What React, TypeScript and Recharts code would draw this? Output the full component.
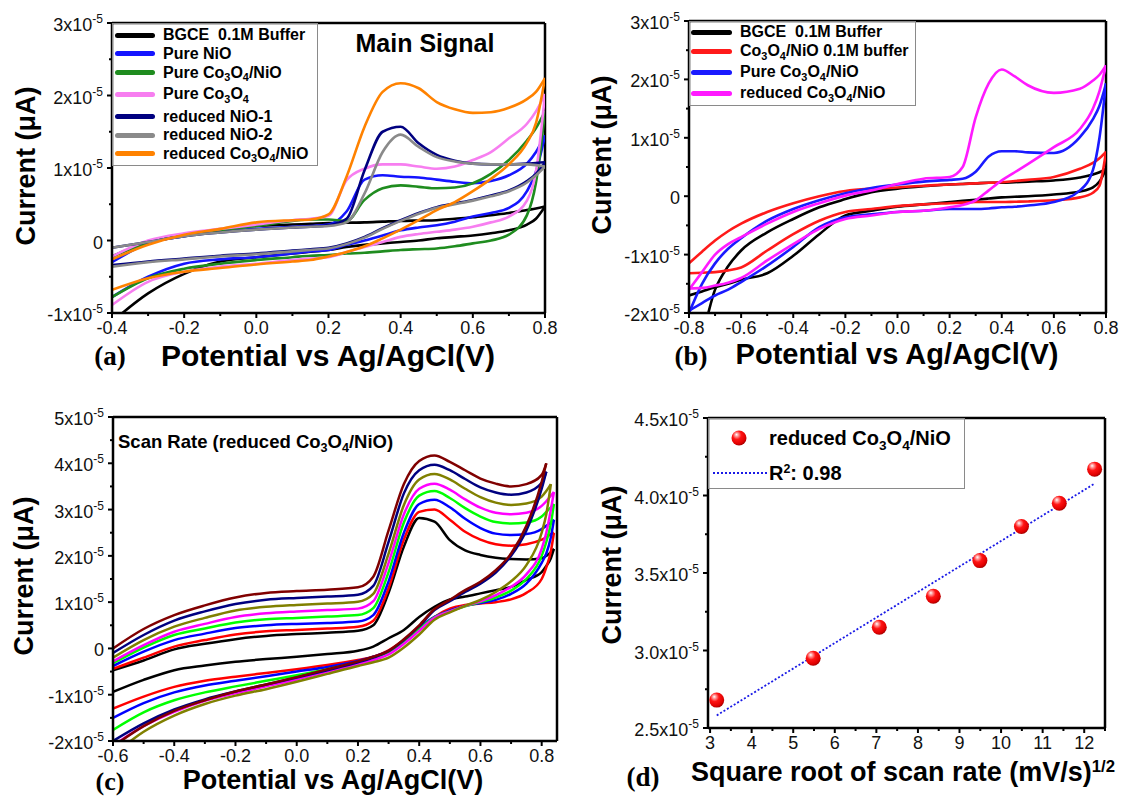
import type { ReactNode } from 'react';
import { LineChart, Line, XAxis, YAxis, ReferenceLine, ScatterChart, Scatter } from 'recharts';

const SANS = '"Liberation Sans", Arial, Helvetica, sans-serif';
const SERIF = '"Liberation Serif", "Times New Roman", serif';

// currents are in units of 1x10^-5, potentials in V vs Ag/AgCl

// (a) main signal
const POT_A = [-0.4, -0.3, -0.2, -0.1, 0, 0.1, 0.15, 0.2, 0.25, 0.3, 0.35, 0.4, 0.45, 0.5, 0.55, 0.6, 0.65, 0.7, 0.75, 0.775, 0.8];
const A_BGCE_UP = [-0.22, -0.02, 0.08, 0.15, 0.2, 0.22, 0.23, 0.24, 0.245, 0.25, 0.26, 0.27, 0.275, 0.28, 0.3, 0.32, 0.35, 0.38, 0.42, 0.44, 0.47];
const A_BGCE_DN = [-1.12, -0.73, -0.46, -0.29, -0.23, -0.18, -0.155, -0.13, -0.09, -0.06, -0.04, -0.02, 0.0, 0.03, 0.05, 0.07, 0.1, 0.14, 0.22, 0.3, 0.47];
const A_NIO_UP = [-0.3, -0.04, 0.06, 0.12, 0.16, 0.19, 0.2, 0.22, 0.4, 0.84, 0.9, 0.88, 0.87, 0.84, 0.81, 0.79, 0.82, 0.9, 1.06, 1.22, 1.45];
const A_NIO_DN = [-0.78, -0.5, -0.32, -0.26, -0.23, -0.18, -0.15, -0.13, -0.06, 0.0, 0.07, 0.14, 0.18, 0.21, 0.26, 0.33, 0.38, 0.45, 0.68, 0.95, 1.45];
const A_CONIO_UP = [-0.22, -0.03, 0.08, 0.14, 0.2, 0.27, 0.29, 0.29, 0.27, 0.56, 0.72, 0.76, 0.74, 0.72, 0.73, 0.79, 0.92, 1.11, 1.38, 1.55, 1.78];
const A_CONIO_DN = [-0.78, -0.52, -0.39, -0.32, -0.27, -0.23, -0.21, -0.2, -0.18, -0.17, -0.15, -0.13, -0.12, -0.11, -0.08, -0.04, 0.0, 0.08, 0.35, 0.8, 1.78];
const A_CO_UP = [-0.22, 0.0, 0.1, 0.16, 0.22, 0.28, 0.3, 0.34, 0.83, 0.99, 1.05, 1.05, 1.02, 0.99, 1.02, 1.11, 1.22, 1.41, 1.61, 1.78, 2.02];
const A_CO_DN = [-0.89, -0.57, -0.43, -0.36, -0.32, -0.27, -0.25, -0.23, -0.16, -0.09, -0.02, 0.05, 0.09, 0.12, 0.15, 0.19, 0.25, 0.33, 0.55, 0.95, 2.02];
const A_RNIO1_UP = [-0.1, -0.02, 0.06, 0.11, 0.15, 0.18, 0.19, 0.21, 0.3, 0.97, 1.5, 1.57, 1.34, 1.18, 1.1, 1.06, 1.05, 1.05, 1.06, 1.07, 1.08];
const A_RNIO1_DN = [-0.34, -0.29, -0.25, -0.21, -0.18, -0.14, -0.12, -0.1, -0.04, 0.05, 0.17, 0.28, 0.38, 0.46, 0.51, 0.56, 0.62, 0.69, 0.82, 0.92, 1.08];
const A_RNIO2_UP = [-0.1, -0.02, 0.06, 0.11, 0.15, 0.18, 0.19, 0.2, 0.25, 0.65, 1.22, 1.46, 1.29, 1.15, 1.09, 1.06, 1.05, 1.05, 1.05, 1.04, 1.02];
const A_RNIO2_DN = [-0.36, -0.3, -0.26, -0.22, -0.19, -0.15, -0.13, -0.11, -0.05, 0.04, 0.16, 0.27, 0.37, 0.45, 0.5, 0.55, 0.61, 0.68, 0.8, 0.9, 1.02];
const A_RCONIO_UP = [-0.26, -0.06, 0.08, 0.16, 0.25, 0.28, 0.29, 0.36, 0.88, 1.57, 2.05, 2.17, 2.1, 1.91, 1.81, 1.76, 1.77, 1.83, 1.95, 2.05, 2.24];
const A_RCONIO_DN = [-0.68, -0.52, -0.43, -0.38, -0.33, -0.29, -0.27, -0.22, -0.16, -0.08, 0.03, 0.15, 0.28, 0.42, 0.53, 0.68, 0.85, 1.05, 1.35, 1.62, 2.24];

// (b) buffer comparison
const POT_B = [-0.8, -0.75, -0.7, -0.65, -0.6, -0.5, -0.4, -0.3, -0.2, -0.1, 0, 0.1, 0.2, 0.25, 0.3, 0.35, 0.4, 0.45, 0.5, 0.6, 0.7, 0.75, 0.775, 0.8];
const B_BGCE_UP = [-2.6, -2.35, -1.6, -1.2, -0.93, -0.62, -0.39, -0.19, -0.05, 0.07, 0.13, 0.17, 0.2, 0.21, 0.22, 0.23, 0.23, 0.24, 0.25, 0.27, 0.32, 0.37, 0.41, 0.47];
const B_BGCE_DN = [-1.7, -1.63, -1.56, -1.5, -1.43, -1.32, -1.02, -0.65, -0.33, -0.25, -0.18, -0.14, -0.1, -0.08, -0.06, -0.04, -0.02, -0.01, 0.0, 0.03, 0.08, 0.15, 0.25, 0.47];
const B_BUF_UP = [-1.15, -0.95, -0.76, -0.6, -0.47, -0.27, -0.12, 0.0, 0.09, 0.13, 0.15, 0.18, 0.2, 0.21, 0.22, 0.23, 0.24, 0.26, 0.28, 0.33, 0.47, 0.57, 0.65, 0.76];
const B_BUF_DN = [-1.32, -1.31, -1.3, -1.27, -1.22, -0.93, -0.65, -0.42, -0.27, -0.22, -0.17, -0.14, -0.12, -0.11, -0.1, -0.1, -0.1, -0.095, -0.09, -0.07, -0.02, 0.06, 0.18, 0.76];
const B_CONIO_UP = [-2.0, -1.5, -1.15, -0.9, -0.72, -0.42, -0.22, -0.07, 0.05, 0.14, 0.2, 0.25, 0.28, 0.3, 0.42, 0.68, 0.77, 0.77, 0.75, 0.74, 1.01, 1.32, 1.55, 1.93];
const B_CONIO_DN = [-1.96, -1.83, -1.7, -1.6, -1.47, -1.19, -0.87, -0.53, -0.36, -0.31, -0.27, -0.25, -0.22, -0.22, -0.22, -0.21, -0.19, -0.18, -0.16, -0.1, 0.1, 0.45, 1.0, 1.93];
const B_RCONIO_UP = [-1.6, -1.3, -1.0, -0.82, -0.7, -0.47, -0.27, -0.12, 0.01, 0.1, 0.21, 0.3, 0.33, 0.5, 1.35, 1.93, 2.17, 2.05, 1.9, 1.77, 1.84, 1.98, 2.08, 2.24];
const B_RCONIO_DN = [-1.58, -1.57, -1.53, -1.48, -1.4, -1.1, -0.82, -0.56, -0.39, -0.33, -0.27, -0.25, -0.19, -0.15, -0.07, 0.1, 0.27, 0.41, 0.55, 0.84, 1.15, 1.5, 1.8, 2.24];

// (c) scan rate, reduced Co3O4/NiO (slowest -> fastest)
const POT_C = [-0.6, -0.5, -0.4, -0.3, -0.2, -0.1, 0, 0.1, 0.2, 0.25, 0.3, 0.35, 0.4, 0.45, 0.5, 0.55, 0.6, 0.65, 0.7, 0.75, 0.8, 0.815, 0.83, 0.84];
const C_R1_UP = [-0.47, -0.26, -0.02, 0.1, 0.2, 0.27, 0.31, 0.34, 0.38, 0.5, 1.2, 2.2, 2.82, 2.74, 2.34, 2.12, 2.02, 1.96, 1.93, 1.92, 1.95, 2.0, 2.08, 2.15];
const C_R1_DN = [-0.94, -0.68, -0.47, -0.37, -0.29, -0.23, -0.18, -0.12, -0.05, 0.04, 0.22, 0.4, 0.68, 0.9, 1.06, 1.12, 1.19, 1.26, 1.33, 1.48, 1.65, 1.78, 1.95, 2.15];
const C_R2_UP = [-0.44, -0.2, 0.04, 0.18, 0.3, 0.37, 0.4, 0.43, 0.47, 0.6, 1.3, 2.35, 2.95, 3.0, 2.78, 2.52, 2.35, 2.25, 2.22, 2.25, 2.35, 2.4, 2.47, 2.5];
const C_R2_DN = [-1.3, -1.04, -0.83, -0.7, -0.61, -0.53, -0.45, -0.36, -0.25, -0.18, -0.04, 0.18, 0.43, 0.68, 0.86, 0.94, 0.97, 1.0, 1.06, 1.2, 1.5, 1.75, 2.1, 2.5];
const C_R3_UP = [-0.38, -0.07, 0.18, 0.32, 0.44, 0.5, 0.53, 0.55, 0.58, 0.72, 1.45, 2.5, 3.12, 3.21, 3.05, 2.8, 2.6, 2.48, 2.45, 2.47, 2.58, 2.65, 2.72, 2.78];
const C_R3_DN = [-1.5, -1.18, -0.95, -0.8, -0.7, -0.6, -0.5, -0.4, -0.27, -0.18, -0.06, 0.16, 0.45, 0.68, 0.82, 0.92, 0.98, 1.05, 1.18, 1.4, 1.85, 2.05, 2.4, 2.78];
const C_R4_UP = [-0.32, 0.02, 0.29, 0.43, 0.56, 0.63, 0.66, 0.69, 0.72, 0.87, 1.65, 2.72, 3.3, 3.4, 3.25, 3.03, 2.85, 2.73, 2.7, 2.72, 2.85, 2.95, 3.05, 3.12];
const C_R4_DN = [-1.76, -1.38, -1.12, -0.95, -0.82, -0.7, -0.58, -0.45, -0.3, -0.2, -0.08, 0.15, 0.42, 0.67, 0.8, 0.91, 1.0, 1.1, 1.25, 1.5, 2.0, 2.3, 2.7, 3.12];
const C_R5_UP = [-0.28, 0.07, 0.36, 0.53, 0.68, 0.76, 0.8, 0.83, 0.86, 1.02, 1.85, 2.9, 3.45, 3.56, 3.43, 3.22, 3.04, 2.93, 2.9, 2.93, 3.08, 3.18, 3.3, 3.38];
const C_R5_DN = [-2.1, -1.68, -1.37, -1.13, -0.97, -0.82, -0.67, -0.5, -0.34, -0.25, -0.13, 0.1, 0.38, 0.66, 0.8, 0.92, 1.02, 1.15, 1.33, 1.6, 2.15, 2.5, 3.0, 3.38];
const C_R6_UP = [-0.2, 0.18, 0.47, 0.66, 0.82, 0.9, 0.94, 0.97, 1.01, 1.18, 2.05, 3.1, 3.65, 3.77, 3.65, 3.45, 3.27, 3.15, 3.1, 3.13, 3.28, 3.4, 3.55, null];
const C_R6_DN = [-2.3, -1.8, -1.45, -1.2, -1.02, -0.88, -0.72, -0.55, -0.38, -0.3, -0.2, 0.02, 0.3, 0.62, 0.78, 0.92, 1.05, 1.22, 1.45, 1.8, 2.5, 2.9, 3.55, null];
const C_R7_UP = [-0.1, 0.29, 0.6, 0.8, 0.96, 1.05, 1.09, 1.12, 1.16, 1.35, 2.3, 3.35, 3.85, 3.97, 3.85, 3.66, 3.48, 3.37, 3.32, 3.37, 3.58, 3.82, null, null];
const C_R7_DN = [-2.0, -1.62, -1.32, -1.1, -0.93, -0.78, -0.63, -0.47, -0.3, -0.2, -0.06, 0.18, 0.48, 0.83, 1.02, 1.22, 1.4, 1.64, 2.0, 2.55, 3.45, 3.82, null, null];
const C_R8_UP = [0.0, 0.42, 0.72, 0.93, 1.1, 1.2, 1.24, 1.27, 1.32, 1.55, 2.55, 3.55, 4.05, 4.17, 4.03, 3.85, 3.67, 3.56, 3.5, 3.55, 3.75, 4.0, null, null];
const C_R8_DN = [-2.12, -1.68, -1.35, -1.12, -0.93, -0.78, -0.62, -0.45, -0.28, -0.18, -0.05, 0.2, 0.5, 0.85, 1.05, 1.26, 1.44, 1.69, 2.05, 2.65, 3.6, 4.0, null, null];

// (d) peak current vs square root of scan rate
const D_SQRT_RATE = [3.16, 5.48, 7.07, 8.37, 9.49, 10.49, 11.4, 12.25];
const D_PEAK = [2.68, 2.95, 3.15, 3.35, 3.58, 3.8, 3.95, 4.17];

// ticks
const A_X_TICKS = [-0.4, -0.3, -0.2, -0.1, 0, 0.1, 0.2, 0.3, 0.4, 0.5, 0.6, 0.7, 0.8];
const A_X_MAJOR = [-0.4, -0.2, 0, 0.2, 0.4, 0.6, 0.8];
const A_Y_TICKS = [-1, -0.5, 0, 0.5, 1, 1.5, 2, 2.5, 3];
const A_Y_MAJOR = [-1, 0, 1, 2, 3];
const B_X_TICKS = [-0.8, -0.7, -0.6, -0.5, -0.4, -0.3, -0.2, -0.1, 0, 0.1, 0.2, 0.3, 0.4, 0.5, 0.6, 0.7, 0.8];
const B_X_MAJOR = [-0.8, -0.6, -0.4, -0.2, 0, 0.2, 0.4, 0.6, 0.8];
const B_Y_TICKS = [-2, -1.5, -1, -0.5, 0, 0.5, 1, 1.5, 2, 2.5, 3];
const B_Y_MAJOR = [-2, -1, 0, 1, 2, 3];
const C_X_TICKS = [-0.6, -0.5, -0.4, -0.3, -0.2, -0.1, 0, 0.1, 0.2, 0.3, 0.4, 0.5, 0.6, 0.7, 0.8];
const C_X_MAJOR = [-0.6, -0.4, -0.2, 0, 0.2, 0.4, 0.6, 0.8];
const C_Y_TICKS = [-2, -1.5, -1, -0.5, 0, 0.5, 1, 1.5, 2, 2.5, 3, 3.5, 4, 4.5, 5];
const C_Y_MAJOR = [-2, -1, 0, 1, 2, 3, 4, 5];
const D_X_TICKS = [3, 3.5, 4, 4.5, 5, 5.5, 6, 6.5, 7, 7.5, 8, 8.5, 9, 9.5, 10, 10.5, 11, 11.5, 12, 12.5];
const D_X_MAJOR = [3, 4, 5, 6, 7, 8, 9, 10, 11, 12];
const D_Y_TICKS = [2.5, 2.75, 3, 3.25, 3.5, 3.75, 4, 4.25, 4.5];
const D_Y_MAJOR = [2.5, 3, 3.5, 4, 4.5];

type Cv = { key: string; color: string; up: (number | null)[]; dn: (number | null)[] };

const SERIES_A: Cv[] = [
  { key: 'bgce', color: '#000000', up: A_BGCE_UP, dn: A_BGCE_DN },
  { key: 'nio', color: '#1414ff', up: A_NIO_UP, dn: A_NIO_DN },
  { key: 'conio', color: '#1f8c1f', up: A_CONIO_UP, dn: A_CONIO_DN },
  { key: 'co', color: '#f77ef0', up: A_CO_UP, dn: A_CO_DN },
  { key: 'rnio1', color: '#000080', up: A_RNIO1_UP, dn: A_RNIO1_DN },
  { key: 'rnio2', color: '#8a8a8a', up: A_RNIO2_UP, dn: A_RNIO2_DN },
  { key: 'rconio', color: '#ff8200', up: A_RCONIO_UP, dn: A_RCONIO_DN },
];

const SERIES_B: Cv[] = [
  { key: 'bgce', color: '#000000', up: B_BGCE_UP, dn: B_BGCE_DN },
  { key: 'buf', color: '#ff1a1a', up: B_BUF_UP, dn: B_BUF_DN },
  { key: 'conio', color: '#1a1aff', up: B_CONIO_UP, dn: B_CONIO_DN },
  { key: 'rconio', color: '#ff1aff', up: B_RCONIO_UP, dn: B_RCONIO_DN },
];

const SERIES_C: Cv[] = [
  { key: 'r1', color: '#000000', up: C_R1_UP, dn: C_R1_DN },
  { key: 'r2', color: '#ff0000', up: C_R2_UP, dn: C_R2_DN },
  { key: 'r3', color: '#0000ff', up: C_R3_UP, dn: C_R3_DN },
  { key: 'r4', color: '#00ff00', up: C_R4_UP, dn: C_R4_DN },
  { key: 'r5', color: '#ff00ff', up: C_R5_UP, dn: C_R5_DN },
  { key: 'r6', color: '#808000', up: C_R6_UP, dn: C_R6_DN },
  { key: 'r7', color: '#000080', up: C_R7_UP, dn: C_R7_DN },
  { key: 'r8', color: '#800000', up: C_R8_UP, dn: C_R8_DN },
];

const AXIS_LINE = { stroke: '#000', strokeWidth: 2.5 };
const isIn = (list: number[], v: number) => list.some((m) => Math.abs(m - v) < 1e-6);

const yTick = (major: number[], digits?: number) => (props: any) => {
  const { x, y, payload } = props;
  const v: number = payload.value;
  const big = isIn(major, v);
  const zero = v === 0 && digits === undefined;
  const main = zero ? '0' : `${digits !== undefined ? v.toFixed(digits) : v}x10`;
  return (
    <g>
      <line x1={x} x2={x - (big ? 5 : 3)} y1={y} y2={y} stroke="#000" strokeWidth={2} />
      {big && (
        <text x={x - 9} y={y + 8} textAnchor="end" fontSize={18} fontFamily={SANS} fill="#111">
          {main}
          {!zero && (
            <tspan dy={-8} fontSize={12}>
              -5
            </tspan>
          )}
        </text>
      )}
    </g>
  );
};

const xTick = (major: number[], digits: number) => (props: any) => {
  const { x, y, payload } = props;
  const v: number = payload.value;
  const big = isIn(major, v);
  return (
    <g>
      <line x1={x} x2={x} y1={y} y2={y + (big ? 5 : 3)} stroke="#000" strokeWidth={2} />
      {big && (
        <text x={x} y={y + 21} textAnchor="middle" fontSize={18} fontFamily={SANS} fill="#111">
          {v.toFixed(digits)}
        </text>
      )}
    </g>
  );
};

type PanelProps = {
  plotLeft: number;
  plotTop: number;
  plotW: number;
  plotH: number;
  padRight: number;
  grid: number[];
  series: Cv[];
  xDomain: [number, number];
  yDomain: [number, number];
  xTicks: number[];
  xMajor: number[];
  yTicks: number[];
  yMajor: number[];
  width?: number;
};

function CvPanel(p: PanelProps) {
  const rows = p.grid.map((x, i) => {
    const row: Record<string, number | null> = { x };
    p.series.forEach((s) => {
      row[`${s.key}Up`] = s.up[i];
      row[`${s.key}Dn`] = s.dn[i];
    });
    return row;
  });
  return (
    <div style={{ position: 'absolute', left: p.plotLeft - 100, top: p.plotTop - 10 }}>
      <LineChart width={100 + p.plotW + p.padRight} height={10 + p.plotH + 40} data={rows} margin={{ top: 10, right: p.padRight, bottom: 0, left: 0 }}>
        <XAxis
          type="number"
          dataKey="x"
          domain={p.xDomain}
          allowDataOverflow
          ticks={p.xTicks}
          interval={0}
          tickLine={false}
          tickSize={0}
          tickMargin={0}
          height={40}
          axisLine={AXIS_LINE}
          tick={xTick(p.xMajor, 1)}
        />
        <YAxis
          type="number"
          domain={p.yDomain}
          allowDataOverflow
          ticks={p.yTicks}
          interval={0}
          tickLine={false}
          tickSize={0}
          tickMargin={0}
          width={100}
          axisLine={AXIS_LINE}
          tick={yTick(p.yMajor)}
        />
        <ReferenceLine x={p.xDomain[1]} stroke="#000" strokeWidth={2.5} />
        <ReferenceLine y={p.yDomain[1]} stroke="#000" strokeWidth={2.5} />
        {p.series.flatMap((s) => [
          <Line key={`${s.key}Dn`} dataKey={`${s.key}Dn`} type="monotone" stroke={s.color} strokeWidth={p.width ?? 2.6} dot={false} isAnimationActive={false} />,
          <Line key={`${s.key}Up`} dataKey={`${s.key}Up`} type="monotone" stroke={s.color} strokeWidth={p.width ?? 2.6} dot={false} isAnimationActive={false} />,
        ])}
      </LineChart>
    </div>
  );
}

function Sphere(props: any) {
  return <circle cx={props.cx} cy={props.cy} r={7.5} fill="url(#sphereGrad)" />;
}

function RatePanel() {
  const pts = D_SQRT_RATE.map((x, i) => ({ x, y: D_PEAK[i] }));
  return (
    <div style={{ position: 'absolute', left: 708 - 100, top: 418 - 10 }}>
      <ScatterChart width={100 + 397 + 14} height={10 + 310 + 40} margin={{ top: 10, right: 14, bottom: 0, left: 0 }}>
        <XAxis
          type="number"
          dataKey="x"
          domain={[2.95, 12.5]}
          allowDataOverflow
          ticks={D_X_TICKS}
          interval={0}
          tickLine={false}
          tickSize={0}
          tickMargin={0}
          height={40}
          axisLine={AXIS_LINE}
          tick={xTick(D_X_MAJOR, 0)}
        />
        <YAxis
          type="number"
          dataKey="y"
          domain={[2.5, 4.5]}
          allowDataOverflow
          ticks={D_Y_TICKS}
          interval={0}
          tickLine={false}
          tickSize={0}
          tickMargin={0}
          width={100}
          axisLine={AXIS_LINE}
          tick={yTick(D_Y_MAJOR, 1)}
        />
        <ReferenceLine x={12.5} stroke="#000" strokeWidth={2.5} />
        <ReferenceLine y={4.5} stroke="#000" strokeWidth={2.5} />
        <Scatter
          data={pts}
          shape={Sphere}
          line={{ stroke: '#1a1ae6', strokeWidth: 1.8, strokeDasharray: '2 2' }}
          lineType="fitting"
          isAnimationActive={false}
        />
      </ScatterChart>
    </div>
  );
}

const Sub = ({ children }: { children: ReactNode }) => (
  <span style={{ fontSize: '0.68em', position: 'relative', top: '0.35em' }}>{children}</span>
);
const Sup = ({ children }: { children: ReactNode }) => (
  <span style={{ fontSize: '0.62em', position: 'relative', top: '-0.55em' }}>{children}</span>
);

function Txt({ x, y, size, rotate, serif, children }: { x: number; y: number; size: number; rotate?: boolean; serif?: boolean; children: ReactNode }) {
  return (
    <div
      style={{
        position: 'absolute',
        left: x,
        top: y,
        transform: `translate(-50%, -50%)${rotate ? ' rotate(-90deg)' : ''}`,
        fontFamily: serif ? SERIF : SANS,
        fontWeight: 'bold',
        fontSize: size,
        lineHeight: 0.8,
        whiteSpace: 'pre',
        color: '#000',
      }}
    >
      {children}
    </div>
  );
}

function LegendRow({ x, w, y, tx, color, size = 16, children }: { x: number; w: number; y: number; tx: number; color: string; size?: number; children: ReactNode }) {
  return (
    <>
      <div style={{ position: 'absolute', left: x, top: y - 2.5, width: w, height: 5, borderRadius: 3, background: color }} />
      <div
        style={{
          position: 'absolute',
          left: tx,
          top: y,
          transform: 'translateY(-50%)',
          fontFamily: SANS,
          fontWeight: 'bold',
          fontSize: size,
          lineHeight: 1,
          whiteSpace: 'pre',
          color: '#000',
        }}
      >
        {children}
      </div>
    </>
  );
}

const CO3O4 = (
  <>
    Co<Sub>3</Sub>O<Sub>4</Sub>
  </>
);

const LEGEND_A_Y = [35, 53.5, 72.5, 94, 116.5, 135, 153.5];
const LEGEND_A_TEXT: ReactNode[] = [
  'BGCE  0.1M Buffer',
  'Pure NiO',
  <>Pure {CO3O4}/NiO</>,
  <>Pure {CO3O4}</>,
  'reduced NiO-1',
  'reduced NiO-2',
  <>reduced {CO3O4}/NiO</>,
];
const LEGEND_B_Y = [32, 51, 72, 93];
const LEGEND_B_TEXT: ReactNode[] = [
  'BGCE  0.1M Buffer',
  <>{CO3O4}/NiO 0.1M buffer</>,
  <>Pure {CO3O4}/NiO</>,
  <>reduced {CO3O4}/NiO</>,
];

export default function App() {
  return (
    <div style={{ position: 'absolute', left: 0, top: 0, width: 1121, height: 797, background: '#fff', overflow: 'hidden' }}>
      <svg width={0} height={0} style={{ position: 'absolute' }}>
        <defs>
          <radialGradient id="sphereGrad" cx="0.4" cy="0.35" r="0.65" fx="0.33" fy="0.27">
            <stop offset="0" stopColor="#ffffff" />
            <stop offset="0.18" stopColor="#ff9a9a" />
            <stop offset="0.45" stopColor="#ff1414" />
            <stop offset="0.85" stopColor="#e00000" />
            <stop offset="1" stopColor="#a80000" />
          </radialGradient>
        </defs>
      </svg>

      {/* (a) */}
      <CvPanel
        plotLeft={112}
        plotTop={23}
        plotW={433}
        plotH={290}
        padRight={22}
        grid={POT_A}
        series={SERIES_A}
        xDomain={[-0.4, 0.8]}
        yDomain={[-1, 3]}
        xTicks={A_X_TICKS}
        xMajor={A_X_MAJOR}
        yTicks={A_Y_TICKS}
        yMajor={A_Y_MAJOR}
      />
      <div style={{ position: 'absolute', left: 112, top: 23, width: 206, height: 143, border: '1px solid #8a8a8a', boxSizing: 'border-box' }} />
      {SERIES_A.map((s, i) => (
        <LegendRow key={s.key} x={115} w={40} y={LEGEND_A_Y[i]} tx={163} color={s.color}>
          {LEGEND_A_TEXT[i]}
        </LegendRow>
      ))}
      <Txt x={425} y={43} size={25}>Main Signal</Txt>
      <Txt x={27} y={166} size={27} rotate>Current (μA)</Txt>
      <Txt x={328} y={355.5} size={30}>Potential vs Ag/AgCl(V)</Txt>
      <Txt x={110} y={357} size={27} serif>(a)</Txt>

      {/* (b) */}
      <CvPanel
        plotLeft={689}
        plotTop={21}
        plotW={417}
        plotH={292}
        padRight={15}
        grid={POT_B}
        series={SERIES_B}
        xDomain={[-0.8, 0.8]}
        yDomain={[-2, 3]}
        xTicks={B_X_TICKS}
        xMajor={B_X_MAJOR}
        yTicks={B_Y_TICKS}
        yMajor={B_Y_MAJOR}
      />
      <div style={{ position: 'absolute', left: 689, top: 21, width: 227, height: 85, border: '1px solid #8a8a8a', boxSizing: 'border-box' }} />
      {SERIES_B.map((s, i) => (
        <LegendRow key={s.key} x={691} w={41} y={LEGEND_B_Y[i]} tx={740} color={s.color}>
          {LEGEND_B_TEXT[i]}
        </LegendRow>
      ))}
      <Txt x={603} y={155} size={27} rotate>Current (μA)</Txt>
      <Txt x={897} y={355} size={29}>Potential vs Ag/AgCl(V)</Txt>
      <Txt x={691} y={357} size={27} serif>(b)</Txt>

      {/* (c) */}
      <CvPanel
        plotLeft={113}
        plotTop={417}
        plotW={444}
        plotH={324}
        padRight={12}
        grid={POT_C}
        series={SERIES_C}
        xDomain={[-0.6, 0.85]}
        yDomain={[-2, 5]}
        xTicks={C_X_TICKS}
        xMajor={C_X_MAJOR}
        yTicks={C_Y_TICKS}
        yMajor={C_Y_MAJOR}
        width={2.5}
      />
      <div
        style={{
          position: 'absolute',
          left: 118,
          top: 442,
          transform: 'translateY(-50%)',
          fontFamily: SANS,
          fontWeight: 'bold',
          fontSize: 18.5,
          lineHeight: 1,
          whiteSpace: 'pre',
        }}
      >
        Scan Rate (reduced {CO3O4}/NiO)
      </div>
      <Txt x={25} y={576} size={27} rotate>Current (μA)</Txt>
      <Txt x={333} y={781} size={27}>Potential vs Ag/AgCl(V)</Txt>
      <Txt x={110} y={782} size={26} serif>(c)</Txt>

      {/* (d) */}
      <RatePanel />
      <div style={{ position: 'absolute', left: 708, top: 418, width: 257, height: 71, border: '1px solid #8a8a8a', boxSizing: 'border-box' }} />
      <svg width={20} height={20} style={{ position: 'absolute', left: 729, top: 428 }}>
        <circle cx={10} cy={10} r={7.5} fill="url(#sphereGrad)" />
      </svg>
      <div style={{ position: 'absolute', left: 769, top: 438, transform: 'translateY(-50%)', fontFamily: SANS, fontWeight: 'bold', fontSize: 20, lineHeight: 1, whiteSpace: 'pre' }}>
        reduced {CO3O4}/NiO
      </div>
      <svg width={56} height={6} style={{ position: 'absolute', left: 712, top: 470 }}>
        <line x1={1} x2={55} y1={3} y2={3} stroke="#1a1ae6" strokeWidth={2.2} strokeDasharray="2 2" />
      </svg>
      <div style={{ position: 'absolute', left: 769, top: 473, transform: 'translateY(-50%)', fontFamily: SANS, fontWeight: 'bold', fontSize: 20, lineHeight: 1, whiteSpace: 'pre' }}>
        R<Sup>2</Sup>: 0.98
      </div>
      <Txt x={613} y={565} size={27} rotate>Current (μA)</Txt>
      <Txt x={903} y={773} size={27}>
        Square root of scan rate (mV/s)<Sup>1/2</Sup>
      </Txt>
      <Txt x={643} y={778} size={27} serif>(d)</Txt>
    </div>
  );
}
